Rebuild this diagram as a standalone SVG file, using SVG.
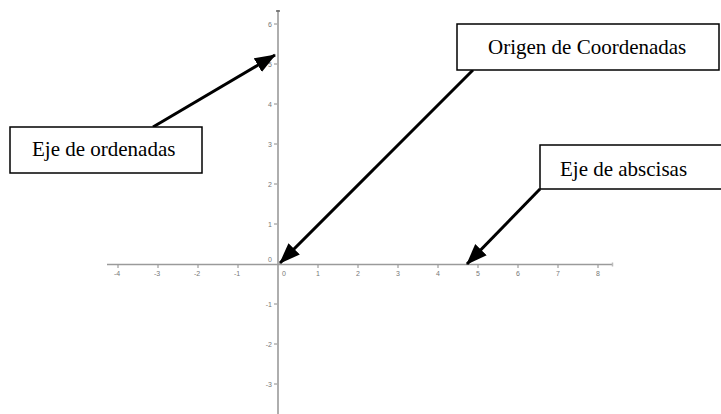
<svg xmlns="http://www.w3.org/2000/svg" width="721" height="414" viewBox="0 0 721 414">
<style>
.axis{stroke:#9a9a9a;stroke-width:1.6;fill:none}
.tick{stroke:#8a8a8a;stroke-width:1}
.tl{font-family:"Liberation Sans",Arial,sans-serif;font-size:7px;fill:#777}
.box{fill:#fff;stroke:#000;stroke-width:1.5}
.lbl{font-family:"Liberation Serif","Times New Roman",serif;font-size:21px;fill:#000}
.conn{stroke:#000;stroke-width:3;fill:none}
</style>
<defs>
<marker id="ah" markerUnits="userSpaceOnUse" markerWidth="22" markerHeight="18" refX="20" refY="9" orient="auto">
<path d="M0,1 L21,9 L0,17 Z" fill="#000"/>
</marker>
</defs>
<g id="axes">
<line class="axis" x1="107" y1="264.5" x2="613" y2="264.5"/>
<line class="axis" x1="278" y1="10" x2="278" y2="414"/>
<line x1="276" y1="11" x2="280" y2="11" stroke="#666" stroke-width="1.5"/>
<line x1="612.5" y1="262.5" x2="612.5" y2="266.5" stroke="#bbb" stroke-width="1.5"/>
<g class="tick">
<line x1="118" y1="265" x2="118" y2="268"/><line x1="158" y1="265" x2="158" y2="268"/>
<line x1="198" y1="265" x2="198" y2="268"/><line x1="238" y1="265" x2="238" y2="268"/>
<line x1="318" y1="265" x2="318" y2="268"/><line x1="358" y1="265" x2="358" y2="268"/>
<line x1="398" y1="265" x2="398" y2="268"/><line x1="438" y1="265" x2="438" y2="268"/>
<line x1="478" y1="265" x2="478" y2="268"/><line x1="518" y1="265" x2="518" y2="268"/>
<line x1="558" y1="265" x2="558" y2="268"/><line x1="598" y1="265" x2="598" y2="268"/>
<line x1="274" y1="24" x2="277" y2="24"/><line x1="274" y1="64" x2="277" y2="64"/>
<line x1="274" y1="104" x2="277" y2="104"/><line x1="274" y1="144" x2="277" y2="144"/>
<line x1="274" y1="184" x2="277" y2="184"/><line x1="274" y1="224" x2="277" y2="224"/>
<line x1="274" y1="304" x2="277" y2="304"/><line x1="274" y1="344" x2="277" y2="344"/>
<line x1="274" y1="384" x2="277" y2="384"/>
</g>
<g class="tl" text-anchor="middle">
<text x="117" y="276">-4</text><text x="157" y="276">-3</text><text x="197" y="276">-2</text>
<text x="237" y="276">-1</text><text x="284" y="276">0</text><text x="318" y="276">1</text>
<text x="358" y="276">2</text><text x="398" y="276">3</text><text x="438" y="276">4</text>
<text x="478" y="276">5</text><text x="518" y="276">6</text><text x="558" y="276">7</text>
<text x="598" y="276">8</text>
</g>
<g class="tl" text-anchor="end">
<text x="272" y="26.5">6</text><text x="272" y="66.5">5</text><text x="272" y="106.5">4</text>
<text x="272" y="146.5">3</text><text x="272" y="186.5">2</text><text x="272" y="226.5">1</text>
<text x="272" y="261.5">0</text><text x="272" y="306.5">-1</text><text x="272" y="346.5">-2</text>
<text x="272" y="386.5">-3</text>
</g>
</g>
<g id="connectors">
<line class="conn" x1="153" y1="127" x2="275" y2="55" marker-end="url(#ah)"/>
<line class="conn" x1="473" y1="70" x2="280" y2="263" marker-end="url(#ah)"/>
<line class="conn" x1="540" y1="189" x2="467" y2="264" marker-end="url(#ah)"/>
</g>
<g id="eje-ordenadas">
<rect class="box" x="10" y="127" width="192" height="46"/>
<text class="lbl" x="32" y="156">Eje de ordenadas</text>
</g>
<g id="origen">
<rect class="box" x="457" y="24" width="262" height="46"/>
<text class="lbl" x="488" y="54">Origen de Coordenadas</text>
</g>
<g id="eje-abscisas">
<rect class="box" x="540" y="145" width="190" height="44"/>
<text class="lbl" x="560" y="176">Eje de abscisas</text>
</g>
</svg>
